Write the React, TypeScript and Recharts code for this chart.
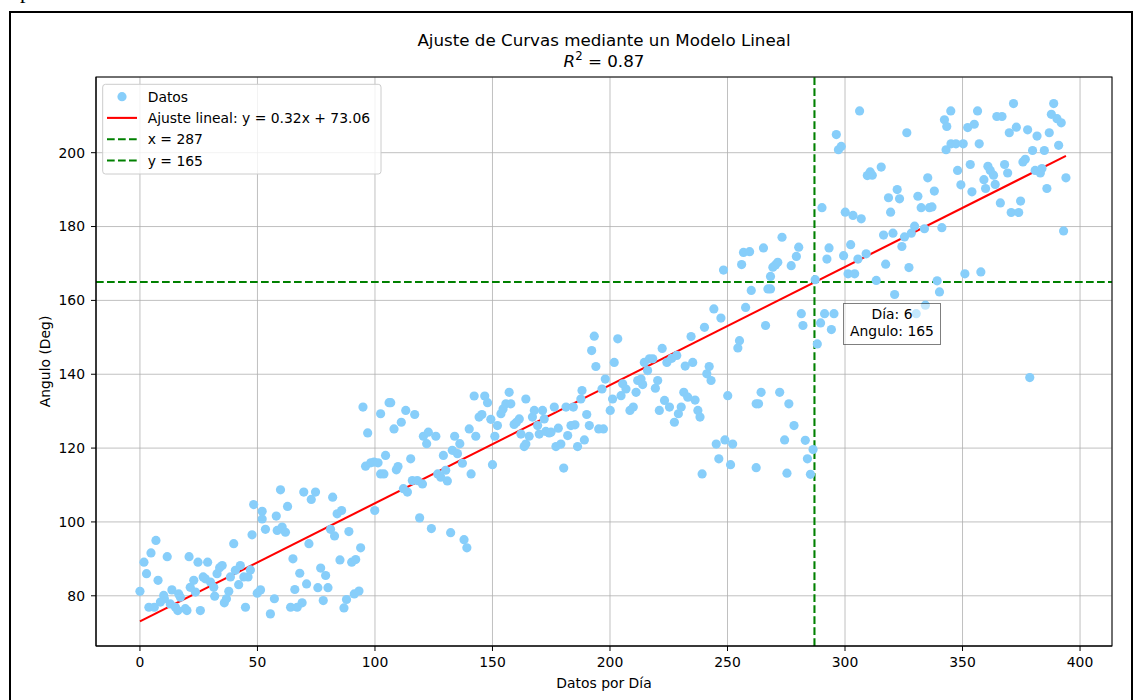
import React from 'react';
import { ComposedChart, Scatter, Line, XAxis, YAxis, CartesianGrid, ReferenceLine } from 'recharts';

const FONT = '"DejaVu Sans", sans-serif';
const FS = 13.9;

const xTicks = [0, 50, 100, 150, 200, 250, 300, 350, 400];
const yTicks = [80, 100, 120, 140, 160, 180, 200];

type P = [number, number];

const datosTramo1: P[] = [
  [0, 81.2], [1.7, 89.1], [2.8, 86.0], [3.8, 76.9], [4.7, 91.6], [6.1, 76.9], [6.8, 95.0], [7.7, 84.2], [8.7, 78.3],
  [10.1, 80.1], [10.4, 79.2], [11.6, 90.6], [12.9, 77.8], [13.6, 81.6], [15.1, 76.9], [16.1, 76.0], [16.5, 80.5],
  [17.2, 79.6], [19.3, 76.5], [20.0, 76.0], [20.9, 90.6], [21.4, 82.3], [22.9, 84.2], [23.6, 81.0], [24.7, 89.1],
  [25.7, 76.0], [26.9, 85.1], [27.8, 84.6], [28.8, 89.1], [30.0, 83.7], [31.4, 82.3], [31.8, 79.9], [32.8, 86.0],
  [33.9, 87.6], [35.0, 88.2], [35.9, 78.1], [36.8, 79.2], [37.8, 81.2], [38.5, 85.1], [39.9, 94.1], [40.6, 86.9],
  [42.0, 83.0], [42.7, 88.2], [44.2, 85.1], [44.9, 76.9], [46.0, 85.1], [47.0, 87.0], [47.7, 96.5], [48.4, 104.7],
  [49.9, 80.7], [51.3, 81.6], [52.0, 102.9], [52.0, 100.8], [53.4, 98.0],
];

const datosTramo2: P[] = [
  [55.5, 75.1], [57.2, 79.2], [58.0, 101.6], [58.4, 97.7], [59.8, 108.7], [60.5, 98.6], [61.9, 97.2], [62.8, 104.2],
  [64.1, 76.9], [65.1, 90.0], [65.9, 81.7], [66.9, 76.9], [68.0, 86.1], [69.0, 78.1], [69.7, 108.1], [70.9, 83.2],
  [71.9, 94.1], [72.9, 106.1], [74.7, 108.1], [75.7, 82.2], [76.9, 87.5], [78.0, 78.7], [79.0, 85.5], [80.0, 82.2],
  [81.1, 98.0], [82.0, 106.7], [82.8, 96.2], [83.9, 102.2], [85.1, 89.7], [85.8, 103.1], [86.8, 76.7], [87.9, 79.0],
  [88.9, 97.4], [90.1, 89.1], [91.2, 80.5], [91.8, 89.8], [93.2, 81.3], [93.9, 93.0], [94.9, 131.1], [96.0, 115.1],
  [96.9, 124.1], [98.2, 116.0], [99.6, 116.2], [99.9, 103.1], [101.3, 116.0], [102.4, 129.3], [102.4, 113.0],
  [103.8, 113.0], [104.5, 118.0],
];

const datosTramo3: P[] = [
  [106.0, 132.3], [106.7, 132.3], [108.1, 125.2], [109.1, 114.1], [109.8, 115.0], [111.2, 127.0], [112.1, 109.0],
  [113.1, 130.2], [113.8, 108.1], [115.2, 117.1], [115.9, 111.2], [116.9, 129.1], [118.0, 111.2], [119.0, 101.1],
  [120.2, 110.3], [120.6, 123.2], [122.0, 121.2], [122.7, 124.3], [124.0, 98.2], [125.9, 123.2], [126.7, 113.0],
  [128.0, 112.1], [129.1, 118.0], [130.1, 114.0], [130.8, 111.1], [132.2, 97.1], [132.9, 119.4], [133.9, 123.2],
  [135.1, 118.5], [136.1, 121.2], [137.2, 115.9], [137.9, 95.2], [139.1, 93.0], [140.1, 125.2], [140.9, 113.0],
  [142.2, 134.1], [142.9, 123.2], [144.3, 128.4], [145.5, 129.1], [146.7, 134.1], [147.9, 132.3], [149.3, 127.8],
  [150.0, 115.5], [151.0, 123.2], [152.1, 126.1], [153.6, 129.3],
];

const datosTramo4: P[] = [
  [154.5, 130.6], [155.7, 132.0], [157.1, 135.1], [157.8, 132.0], [159.2, 126.4], [160.2, 127.0], [161.4, 127.9],
  [162.1, 123.8], [163.5, 120.4], [164.2, 121.1], [164.2, 133.3], [165.6, 123.2], [167.0, 128.4], [167.8, 130.2],
  [169.2, 126.1], [169.9, 123.8], [171.3, 130.2], [172.0, 127.9], [172.7, 124.5], [174.1, 124.1], [174.9, 124.3],
  [176.3, 131.1], [177.0, 120.4], [178.0, 125.4], [179.1, 121.1], [180.3, 114.6], [181.3, 131.1], [182.0, 123.4],
  [183.4, 126.1], [184.4, 131.1], [185.1, 126.3], [186.2, 120.4], [187.6, 133.3], [188.1, 135.6], [189.1, 122.2],
  [190.1, 129.1], [191.2, 126.1], [192.2, 146.4], [193.3, 150.3], [194.0, 142.1], [195.2, 125.2], [196.6, 136.0],
  [197.2, 125.2], [198.0, 138.7], [200.1, 130.2], [201.1, 133.3], [201.8, 143.2], [203.3, 149.6], [204.7, 134.2],
  [205.4, 137.4],
];

const datosTramo5: P[] = [
  [206.8, 136.0], [208.5, 130.2], [209.9, 131.1], [211.1, 135.1], [211.8, 138.3], [213.2, 138.7], [213.9, 137.2],
  [214.6, 143.2], [216.0, 141.0], [216.8, 144.2], [218.2, 144.2], [219.3, 136.2], [220.3, 138.3], [221.0, 130.2],
  [222.2, 147.0], [223.2, 132.9], [224.2, 143.2], [225.3, 131.1], [226.3, 144.3], [227.4, 127.0], [228.4, 145.1],
  [229.1, 129.3], [230.3, 131.1], [231.4, 135.1], [232.0, 142.2], [233.1, 133.8], [234.5, 150.2], [235.2, 143.2],
  [236.2, 133.0], [237.4, 130.2], [238.3, 128.4], [239.2, 113.0], [240.2, 152.7], [241.2, 140.1], [242.2, 142.1],
  [243.0, 138.3], [244.2, 157.7], [245.2, 121.1], [246.3, 117.1], [247.2, 155.2], [248.3, 168.2], [248.9, 122.2],
  [250.1, 134.2], [251.3, 115.5], [252.2, 121.1], [254.4, 147.1], [255.1, 149.1], [256.0, 169.7], [256.8, 173.0],
  [257.7, 158.1],
];

const datosTramo6: P[] = [
  [259.4, 173.2], [260.1, 162.7], [262.2, 132.0], [262.2, 114.7], [263.2, 132.0], [264.3, 135.1], [265.3, 174.2],
  [266.2, 153.2], [267.2, 163.1], [268.3, 163.1], [268.3, 166.5], [269.3, 169.0], [270.4, 169.6], [271.4, 170.3],
  [272.2, 135.1], [273.2, 177.1], [274.3, 122.2], [275.3, 113.2], [276.1, 132.0], [277.1, 169.4], [278.3, 126.1],
  [279.3, 171.9], [280.3, 174.4], [281.4, 156.4], [282.1, 153.2], [283.1, 122.1], [284.0, 117.1], [285.3, 112.9],
  [286.4, 119.6], [287.3, 165.6], [288.2, 148.2], [289.6, 153.9], [290.2, 185.1], [291.3, 156.4], [292.3, 171.2],
  [293.2, 174.2], [294.2, 152.1], [295.3, 156.4], [296.3, 204.9], [297.2, 200.8], [298.4, 201.7], [299.4, 172.1],
  [300.1, 183.9], [301.3, 167.2], [302.4, 175.1], [303.4, 183.0], [304.1, 167.2], [305.5, 171.2], [306.2, 211.3],
  [306.9, 182.1], [309.0, 172.6],
];

const datosTramo7: P[] = [
  [309.5, 193.8], [310.7, 194.8], [311.6, 193.9], [313.3, 165.4], [315.4, 196.1], [316.4, 177.7], [317.3, 169.8],
  [318.5, 187.8], [319.4, 183.9], [320.4, 178.2], [321.1, 161.6], [322.2, 190.0], [323.2, 187.5], [324.2, 174.6],
  [325.3, 177.2], [326.3, 205.4], [327.2, 168.9], [328.2, 178.2], [329.6, 180.1], [330.3, 156.4], [331.0, 188.2],
  [332.4, 185.1], [333.8, 179.4], [334.2, 158.7], [335.2, 193.2], [335.9, 185.1], [337.0, 185.3], [338.0, 189.6],
  [339.2, 165.3], [340.2, 162.3], [341.2, 179.7], [342.3, 208.9], [343.0, 200.8], [343.3, 207.1], [345.0, 211.3],
  [345.1, 202.4], [347.2, 202.4], [347.9, 195.2], [349.3, 191.3], [350.3, 202.4], [351.0, 167.2], [352.2, 206.8],
  [353.3, 196.8], [354.0, 189.4], [355.0, 207.7], [356.4, 211.3], [357.1, 202.4], [357.8, 167.7],
];

const datosTramo8: P[] = [
  [359.1, 192.7], [359.8, 190.3], [360.8, 196.3], [361.8, 195.2], [363.2, 193.9], [363.9, 191.4], [364.6, 209.8],
  [366.1, 186.4], [366.8, 209.8], [367.9, 196.8], [369.2, 194.5], [369.9, 205.4], [370.7, 183.8], [371.7, 213.3],
  [372.9, 206.9], [373.9, 183.8], [374.7, 186.9], [375.7, 197.5], [376.7, 198.2], [377.7, 206.2], [378.6, 139.1],
  [379.8, 200.6], [380.9, 195.2], [381.7, 204.5], [383.1, 194.5], [383.8, 195.7], [384.8, 200.6], [385.9, 190.3],
  [386.9, 205.4], [387.8, 210.4], [388.8, 213.3], [390.2, 209.2], [390.9, 202.0], [392.0, 208.1], [393.0, 178.8],
  [394.0, 193.2],
];

// Extremos de la recta de ajuste (y = 0.32x + 73.06)
const lineaAjuste: P[] = [[0, 73.06], [394, 199.14]];

const lineaVertical = 287;
const lineaHorizontal = 165;

const legendItems = ['Datos', 'Ajuste lineal: y = 0.32x + 73.06', 'x = 287', 'y = 165'];
const anotacion = ['Día: 6', 'Angulo: 165'];

const toObj = (arr: P[]) => arr.map(([x, y]) => ({ x, y }));
const puntos = toObj([
  ...datosTramo1, ...datosTramo2, ...datosTramo3, ...datosTramo4,
  ...datosTramo5, ...datosTramo6, ...datosTramo7, ...datosTramo8,
]);
const ajusteData = toObj(lineaAjuste);

const Dot = (props: any) => {
  if (props.cx == null || props.cy == null) return null;
  return <circle cx={props.cx} cy={props.cy} r={4.6} fill="#87CEFA" />;
};

export default function App() {
  const tickStyle = { fill: '#000', fontSize: FS, fontFamily: FONT };
  const rowY = [96.7, 117.9, 139.2, 160.5];
  return (
    <div style={{ position: 'absolute', left: 0, top: 0, width: 1134, height: 700, background: '#fff', overflow: 'hidden' }}>
      <div style={{ position: 'absolute', left: 0, top: 0 }}>
        <ComposedChart width={1134} height={700} margin={{ top: 77, right: 22, bottom: 0, left: 0 }}>
          <CartesianGrid stroke="#b0b0b0" strokeWidth={0.8} />
          <XAxis
            type="number"
            dataKey="x"
            domain={[-18.7, 413.6]}
            ticks={xTicks}
            interval={0}
            allowDataOverflow
            height={54}
            tickSize={5}
            tickMargin={6}
            tick={tickStyle}
            stroke="#000"
            axisLine={{ stroke: '#000', strokeWidth: 1 }}
            tickLine={{ stroke: '#000', strokeWidth: 1 }}
          />
          <YAxis
            type="number"
            dataKey="y"
            domain={[66.4, 220.5]}
            ticks={yTicks}
            interval={0}
            allowDataOverflow
            width={96}
            tickSize={5}
            tickMargin={6}
            tick={tickStyle}
            stroke="#000"
            axisLine={{ stroke: '#000', strokeWidth: 1 }}
            tickLine={{ stroke: '#000', strokeWidth: 1 }}
          />
          <Scatter name="Datos" data={puntos} dataKey="y" fill="#87CEFA" shape={Dot} isAnimationActive={false} />
          <Line
            name="Ajuste lineal"
            data={ajusteData}
            dataKey="y"
            type="linear"
            stroke="red"
            strokeWidth={2.08}
            dot={false}
            activeDot={false}
            isAnimationActive={false}
          />
          <ReferenceLine x={lineaVertical} stroke="green" strokeWidth={2.08} strokeDasharray="7.7 3.3" />
          <ReferenceLine y={lineaHorizontal} stroke="green" strokeWidth={2.08} strokeDasharray="7.7 3.3" />
        </ComposedChart>
      </div>
      <svg
        width={1134}
        height={700}
        style={{ position: 'absolute', left: 0, top: 0, pointerEvents: 'none', overflow: 'visible' }}
        fontFamily={FONT}
      >
        <text x={20} y={-2} fontFamily='"Liberation Serif", serif' fontSize={22} fill="#000">p</text>
        <rect x={10} y={12} width={1122} height={800} fill="none" stroke="#000" strokeWidth={2} />
        <rect x={96} y={77} width={1016} height={569} fill="none" stroke="#000" strokeWidth={1} />
        <text x={604} y={46} textAnchor="middle" fontSize={16.7} fill="#000">
          Ajuste de Curvas mediante un Modelo Lineal
        </text>
        <text x={604} y={67} textAnchor="middle" fontSize={16.7} fill="#000">
          <tspan fontStyle="italic">R</tspan>
          <tspan dy={-7} fontSize={11.7}>2</tspan>
          <tspan dy={7}> = 0.87</tspan>
        </text>
        <text x={604} y={688} textAnchor="middle" fontSize={FS} fill="#000">Datos por Día</text>
        <text transform="translate(50,361.5) rotate(-90)" textAnchor="middle" fontSize={FS} fill="#000">
          Angulo (Deg)
        </text>

        <rect x={102.7} y={84.3} width={278.3} height={89.7} rx={2.8} fill="#fff" fillOpacity={0.8} stroke="#cccccc" strokeWidth={1} />
        <circle cx={122} cy={rowY[0]} r={4.6} fill="#87CEFA" />
        <line x1={107} x2={137} y1={rowY[1]} y2={rowY[1]} stroke="red" strokeWidth={2.08} />
        <line x1={107} x2={137} y1={rowY[2]} y2={rowY[2]} stroke="green" strokeWidth={2.08} strokeDasharray="7.7 3.3" />
        <line x1={107} x2={137} y1={rowY[3]} y2={rowY[3]} stroke="green" strokeWidth={2.08} strokeDasharray="7.7 3.3" />
        {legendItems.map((t, i) => (
          <text key={t} x={147.7} y={rowY[i] + 5} fontSize={FS} fill="#000">{t}</text>
        ))}

        <rect x={843.5} y={303.5} width={97} height={41} fill="#fff" fillOpacity={0.5} stroke="#000" strokeOpacity={0.5} strokeWidth={1} />
        <text x={892} y={319.3} textAnchor="middle" fontSize={FS} fill="#000">{anotacion[0]}</text>
        <text x={892} y={336} textAnchor="middle" fontSize={FS} fill="#000">{anotacion[1]}</text>
      </svg>
    </div>
  );
}
